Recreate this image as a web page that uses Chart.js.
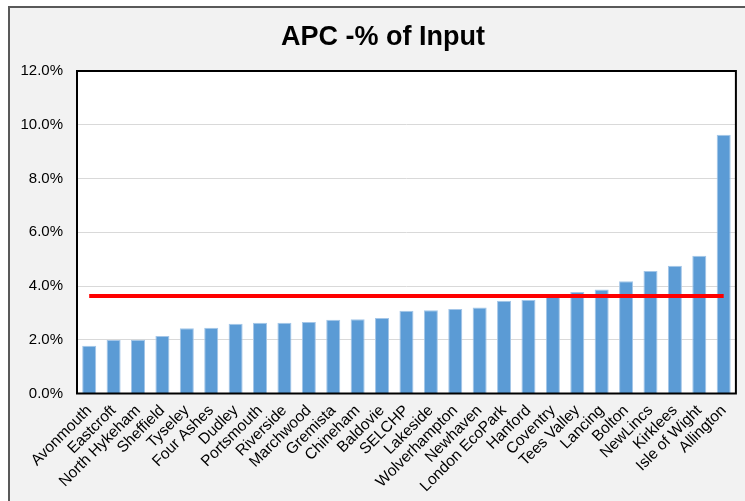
<!DOCTYPE html>
<html>
<head>
<meta charset="utf-8">
<title>APC -% of Input</title>
<script src="https://cdn.jsdelivr.net/npm/chart.js@4.4.1/dist/chart.umd.min.js"></script>
<style>
  html, body { margin: 0; padding: 0; background: #ffffff; overflow: hidden; }
  body { width: 745px; height: 501px; position: relative; }
  #panel {
    position: absolute; left: 8px; top: 6px; width: 800px; height: 600px;
    background: #f2f2f2; border-left: 2px solid #595959; border-top: 2px solid #595959;
  }
  #c { position: absolute; left: 0; top: 0; }
</style>
</head>
<body>
<div id="panel"></div>
<canvas id="c" width="745" height="501"></canvas>
<script>
// Sites, ordered from lowest to highest APC share
const sites = [
  'Avonmouth', 'Eastcroft', 'North Hykeham', 'Sheffield', 'Tyseley', 'Four Ashes',
  'Dudley', 'Portsmouth', 'Riverside', 'Marchwood', 'Gremista', 'Chineham',
  'Baldovie', 'SELCHP', 'Lakeside', 'Wolverhampton', 'Newhaven', 'London EcoPark',
  'Hanford', 'Coventry', 'Tees Valley', 'Lancing', 'Bolton', 'NewLincs',
  'Kirklees', 'Isle of Wight', 'Allington'
];

// APC as a percentage of input tonnage
const apcPct = [
  1.78, 1.99, 2.00, 2.14, 2.43, 2.45,
  2.60, 2.63, 2.63, 2.66, 2.74, 2.76,
  2.81, 3.08, 3.10, 3.14, 3.20, 3.45,
  3.48, 3.62, 3.78, 3.87, 4.18, 4.56,
  4.75, 5.13, 9.63
];

// Reference level drawn across all sites
const benchmarkPct = [
  3.63, 3.63, 3.63, 3.63, 3.63, 3.63,
  3.63, 3.63, 3.63, 3.63, 3.63, 3.63,
  3.63, 3.63, 3.63, 3.63, 3.63, 3.63,
  3.63, 3.63, 3.63, 3.63, 3.63, 3.63,
  3.63, 3.63, 3.63
];

// Value axis range and tick spacing (percent)
const yMin = 0;
const yMax = 12;
const yStep = 2;

const chartTitle = 'APC -% of Input';

const FONT = '"Liberation Sans", Arial, Helvetica, sans-serif';
Chart.defaults.font.family = FONT;

// White plot area behind the bars, a dark frame around it, and the heading
const plotArea = {
  id: 'plotArea',
  beforeDraw(chart) {
    const a = chart.chartArea, g = chart.ctx;
    g.save();
    g.fillStyle = '#ffffff';
    g.fillRect(a.left, a.top, a.right - a.left, a.bottom - a.top);
    g.restore();
  },
  afterDraw(chart) {
    const a = chart.chartArea, g = chart.ctx;
    g.save();
    g.strokeStyle = '#000000';
    g.lineWidth = 2;
    g.strokeRect(a.left, a.top, a.right - a.left, a.bottom - a.top);

    g.fillStyle = '#000000';
    g.font = 'bold 27px ' + FONT;
    g.textAlign = 'center';
    g.textBaseline = 'alphabetic';
    g.fillText(chartTitle, 383, 45);
    g.restore();
  }
};

new Chart(document.getElementById('c'), {
  type: 'bar',
  data: {
    labels: sites,
    datasets: [
      {
        type: 'line',
        data: benchmarkPct,
        borderColor: '#ff0000',
        borderWidth: 4,
        borderCapStyle: 'butt',
        pointRadius: 0,
        fill: false,
        order: 0
      },
      {
        type: 'bar',
        data: apcPct,
        backgroundColor: '#5b9bd5',
        borderColor: '#a4c6e8',
        borderWidth: 1,
        categoryPercentage: 1,
        barPercentage: 0.575,
        order: 1
      }
    ]
  },
  options: {
    responsive: false,
    animation: false,
    devicePixelRatio: 1,
    layout: { padding: { left: 8, right: 8, top: 71, bottom: 0 } },
    plugins: {
      legend: { display: false },
      tooltip: { enabled: false },
      title: { display: false }
    },
    scales: {
      x: {
        grid: { display: false, drawTicks: false },
        border: { display: false },
        ticks: {
          color: '#000000',
          font: { size: 15.5 },
          minRotation: 45,
          maxRotation: 45,
          autoSkip: false,
          padding: 8
        },
        afterFit(scale) { scale.height = 107.5; }
      },
      y: {
        min: yMin,
        max: yMax,
        ticks: {
          stepSize: yStep,
          color: '#000000',
          font: { size: 15 },
          padding: 14,
          callback: v => v.toFixed(1) + '%'
        },
        grid: { color: '#d9d9d9', lineWidth: 1, drawTicks: false },
        border: { display: false },
        afterFit(scale) { scale.width = 69; }
      }
    }
  },
  plugins: [plotArea]
});
</script>
</body>
</html>
